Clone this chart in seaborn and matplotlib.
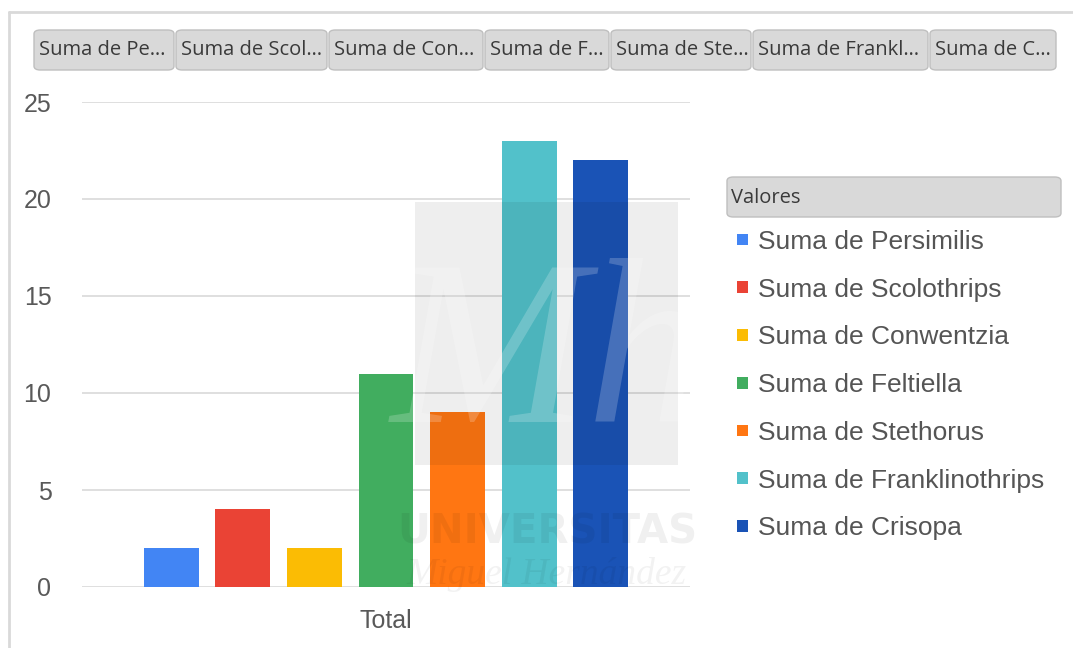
import pandas as pd
import numpy as np
import matplotlib
matplotlib.use("Agg")
import matplotlib.pyplot as plt
from matplotlib.patches import FancyBboxPatch, Rectangle
from matplotlib.lines import Line2D
import seaborn as sns

# Datos
# ==============================================================================
series = ["Suma de Persimilis", "Suma de Scolothrips", "Suma de Conwentzia",
          "Suma de Feltiella", "Suma de Stethorus", "Suma de Franklinothrips",
          "Suma de Crisopa"]
valores = [2, 4, 2, 11, 9, 23, 22]
categoria = ["Total"] * len(series)
colores = ["#4285F4", "#EA4335", "#FBBC04", "#41AD5F", "#FF7612", "#52C1CA", "#1A53B6"]
botones = ["Suma de Pe…", "Suma de Scol…", "Suma de Con…", "Suma de F…",
           "Suma de Ste…", "Suma de Frankl…", "Suma de C…"]
yticks = [0, 5, 10, 15, 20, 25]

df = pd.DataFrame({"categoria": categoria, "serie": series, "valor": valores})

# Configuración
# ==============================================================================
sns.set_style("white")
plt.rcParams['font.family'] = ['Liberation Sans', 'DejaVu Sans']

W, H = 1073, 648
fig = plt.figure(figsize=(W / 100, H / 100), dpi=100)
fig.patch.set_facecolor("white")

def fx(px):
    return px / W

def fy(py):
    return 1 - py / H

ax = fig.add_axes([fx(82), fy(587), fx(690) - fx(82), fy(102) - fy(587)])

sns.barplot(
    data      = df,
    x         = "categoria",
    y         = "valor",
    hue       = "serie",
    hue_order = series,
    palette   = dict(zip(series, colores)),
    width     = 0.825,
    gap       = 0.233,
    linewidth = 0,
    saturation= 1,
    ax        = ax
)

ax.set_ylim(0, 25)
ax.set_xlim(-0.5, 0.5)
ax.set_yticks(yticks)
ax.set_xlabel("")
ax.set_ylabel("")
ax.grid(axis="y", color="#D9D9D9", lw=1.2)
ax.set_axisbelow(True)
for s in ax.spines.values():
    s.set_visible(False)
ax.tick_params(axis="y", length=0, pad=22, labelsize=18, labelcolor="#595959")
ax.tick_params(axis="x", length=0, pad=16, labelsize=18, labelcolor="#595959")

# Leyenda
# ==============================================================================
sns.move_legend(
    ax, "upper left",
    bbox_to_anchor = (fx(737), fy(230)),
    bbox_transform = fig.transFigure,
    title          = None,
    frameon        = False,
    fontsize       = 19,
    handlelength   = 0.4,
    handleheight   = 0.3,
    handletextpad  = 0.4,
    labelspacing   = 0.9,
    borderpad      = 0,
    borderaxespad  = 0,
)
for t in ax.get_legend().get_texts():
    t.set_color("#555555")

# Botones de campo (tabla dinámica)
# ==============================================================================
bordes = [33, 175, 328, 484, 610, 752, 929, 1057]
for i, txt in enumerate(botones):
    x0, x1 = bordes[i] + 1, bordes[i + 1] - 1
    fig.add_artist(FancyBboxPatch(
        (fx(x0), fy(70)), fx(x1) - fx(x0), fy(30) - fy(70),
        boxstyle="round,pad=0,rounding_size=0.006",
        transform=fig.transFigure, facecolor="#D9D9D9", edgecolor="#BFBFBF", lw=1))
    fig.text(fx(x0 + 5), fy(50), txt, ha="left", va="center", fontsize=14.5,
             color="#3A3A3A", family=["Open Sans", "DejaVu Sans"])

fig.add_artist(FancyBboxPatch(
    (fx(727), fy(217)), fx(1061) - fx(727), fy(177) - fy(217),
    boxstyle="round,pad=0,rounding_size=0.006",
    transform=fig.transFigure, facecolor="#D9D9D9", edgecolor="#BFBFBF", lw=1))
fig.text(fx(731), fy(198), "Valores", ha="left", va="center", fontsize=14.5,
         color="#3A3A3A", family=["Open Sans", "DejaVu Sans"])

# Marca de agua
# ==============================================================================
fig.add_artist(Rectangle((fx(415), fy(465)), fx(678) - fx(415), fy(202) - fy(465),
                         transform=fig.transFigure, facecolor="black", alpha=0.065,
                         lw=0, zorder=5))
fig.text(fx(548), fy(258), "Mh", ha="center", va="top", fontsize=170, style="italic",
         color="white", alpha=0.2, zorder=6, family=["Liberation Serif"])
fig.text(fx(547), fy(532), "UNIVERSITAS", ha="center", va="center", fontsize=29,
         weight="bold", color="black", alpha=0.06, zorder=6,
         family=["DejaVu Sans"])
fig.text(fx(547), fy(575), "Miguel Hernández", ha="center", va="center", fontsize=27,
         style="italic", color="black", alpha=0.05, zorder=6, family=["Liberation Serif"])

# Marco
# ==============================================================================
fig.add_artist(Line2D([fx(9), 1], [fy(12), fy(12)], color="#D9D9D9", lw=2,
                      transform=fig.transFigure))
fig.add_artist(Line2D([fx(9), fx(9)], [fy(12), 0], color="#D9D9D9", lw=2,
                      transform=fig.transFigure))

plt.savefig("out.png", dpi=100)
